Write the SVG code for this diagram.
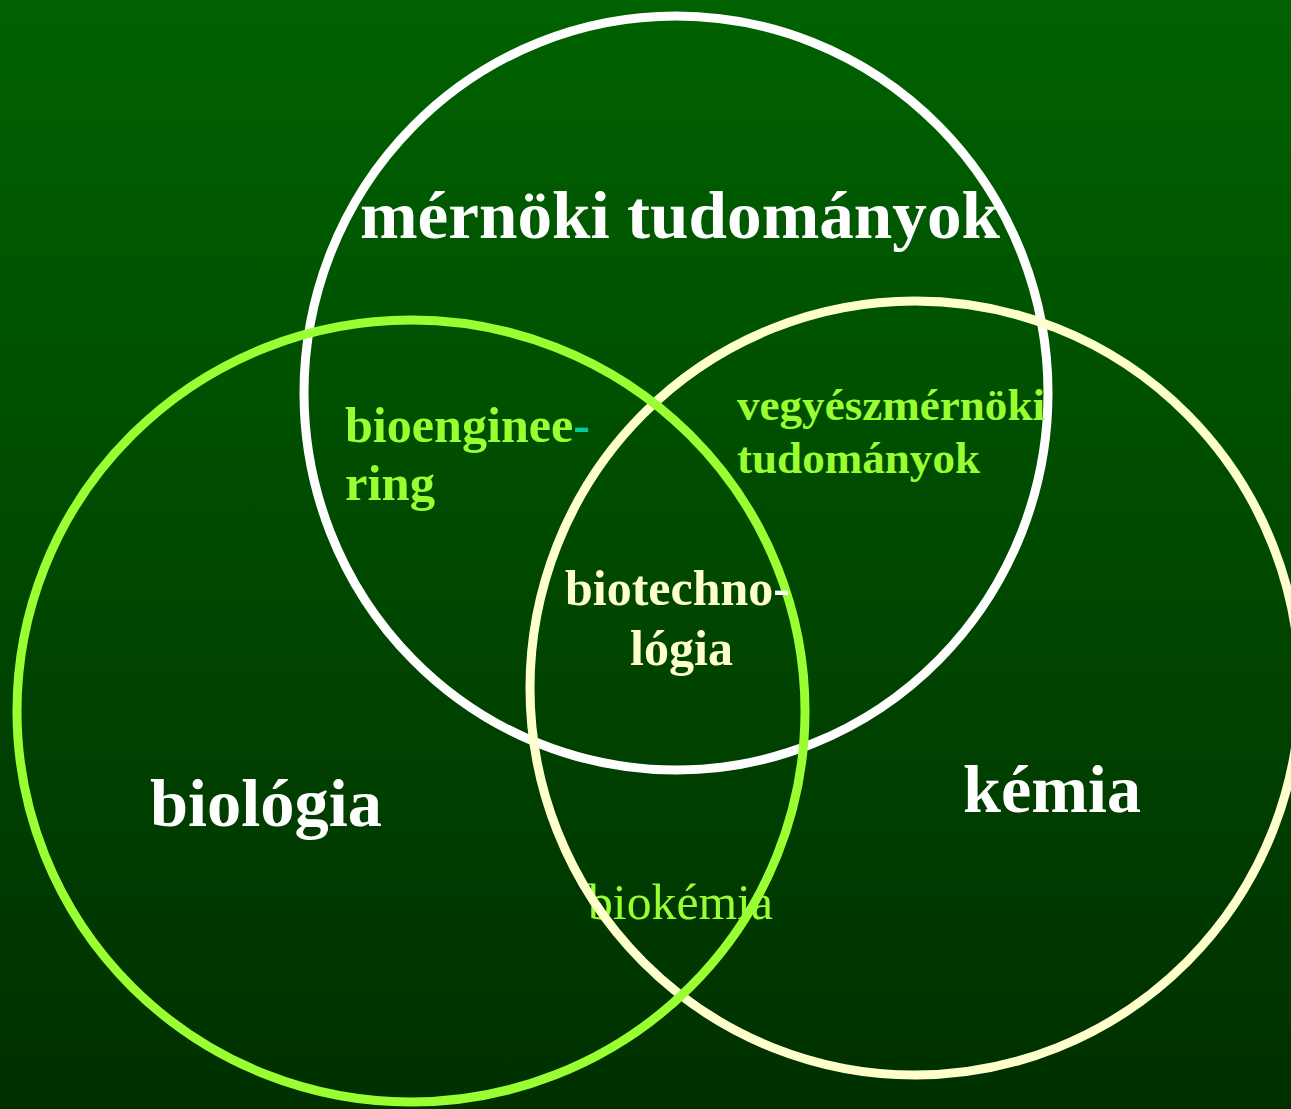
<svg xmlns="http://www.w3.org/2000/svg" width="1291" height="1109" viewBox="0 0 1291 1109">
<defs>
<linearGradient id="bg" x1="0" y1="0" x2="0" y2="1">
<stop offset="0" stop-color="#006200"/>
<stop offset="1" stop-color="#003000"/>
</linearGradient>
</defs>
<style>
.ring{fill:none;stroke-width:9}
.t{font-family:"Liberation Serif","Times New Roman",serif;font-weight:bold}
.big{font-size:67px;fill:#ffffff}
.mid{font-size:50px}
.g{fill:#99ff33}
.c{fill:#ffffcc}
</style>
<rect width="1291" height="1109" fill="url(#bg)"/>
<g id="label-biochem"><text font-family="Liberation Serif, Times New Roman, serif" font-size="50" fill="#99ff33" x="588" y="919" textLength="185" lengthAdjust="spacingAndGlyphs">biokémia</text></g>
<g id="circle-engineering"><ellipse class="ring" cx="676" cy="393" rx="372" ry="377" stroke="#ffffff"/></g>
<g id="circle-chemistry"><ellipse class="ring" cx="915" cy="688" rx="385" ry="387" stroke="#ffffcc"/></g>
<g id="circle-biology"><ellipse class="ring" cx="411" cy="711" rx="394" ry="391" stroke="#99ff33"/></g>
<g id="label-engineering"><text class="t big" x="360" y="238" textLength="640" lengthAdjust="spacingAndGlyphs">mérnöki tudományok</text></g>
<g id="label-biology"><text class="t big" x="150" y="826" textLength="232" lengthAdjust="spacingAndGlyphs">biológia</text></g>
<g id="label-chemistry"><text class="t big" x="963" y="812" textLength="178" lengthAdjust="spacingAndGlyphs">kémia</text></g>
<g id="label-bioengineering"><text class="t mid g" x="345" y="442" textLength="245" lengthAdjust="spacingAndGlyphs">bioenginee<tspan fill="#00cc99">-</tspan></text><text class="t mid g" x="345" y="500" textLength="90" lengthAdjust="spacingAndGlyphs">ring</text></g>
<g id="label-chemeng"><text class="t g" style="font-size:44px" x="737" y="420" textLength="308" lengthAdjust="spacingAndGlyphs">vegyészmérnöki</text><text class="t g" style="font-size:44px" x="737" y="473" textLength="243" lengthAdjust="spacingAndGlyphs">tudományok</text></g>
<g id="label-biotech"><text class="t mid c" x="565" y="605" textLength="225" lengthAdjust="spacingAndGlyphs">biotechno<tspan fill="#ffffff">-</tspan></text><text class="t mid c" x="630" y="665" textLength="103" lengthAdjust="spacingAndGlyphs">lógia</text></g>
</svg>
